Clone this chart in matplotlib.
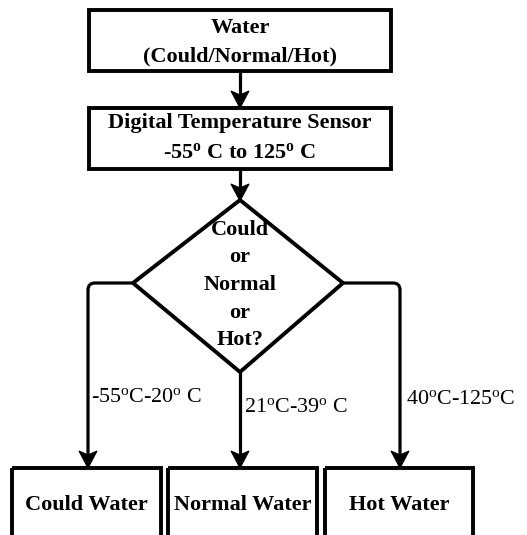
import matplotlib
matplotlib.use("Agg")
import matplotlib.pyplot as plt
from matplotlib.patches import Rectangle, Polygon, PathPatch
from matplotlib.path import Path

plt.rcParams['font.family'] = ['Liberation Serif', 'DejaVu Serif']
plt.rcParams['mathtext.fontset'] = 'custom'
plt.rcParams['mathtext.rm'] = 'Liberation Serif'
plt.rcParams['mathtext.bf'] = 'Liberation Serif:bold'
plt.rcParams['mathtext.it'] = 'Liberation Serif:italic'

# ---- content ----
top_box_lines = ["Water", "(Could/Normal/Hot)"]
sensor_box_lines = ["Digital Temperature Sensor", r"-55$^{\mathbf{o}}$ C to 125$^{\mathbf{o}}$ C"]
decision_lines = ["Could", "or", "Normal", "or", "Hot?"]
branch_labels = [r"-55$^{\mathrm{o}}$C-20$^{\mathrm{o}}$ C",
                 r"21$^{\mathrm{o}}$C-39$^{\mathrm{o}}$ C",
                 r"40$^{\mathrm{o}}$C-125$^{\mathrm{o}}$C"]
outcome_labels = ["Could Water", "Normal Water", "Hot Water"]

W, H = 527, 535
fig = plt.figure(figsize=(W / 100, H / 100), dpi=100)
ax = fig.add_axes([0, 0, 1, 1])
ax.set_xlim(0, W)
ax.set_ylim(H, 0)
ax.axis('off')

LW = 2.8
ALW = 2.3
FS = 16
FS_LAB = 15.8

HEAD_LEN = 17   # px
HEAD_HALF_W = 9
HEAD_NOTCH = 4  # px depth of the notch at the back of the head

def box(x0, y0, x1, y1):
    ax.add_patch(Rectangle((x0, y0), x1 - x0, y1 - y0, fill=False, lw=LW,
                           ec='black', joinstyle='miter'))

def head_at(x, y):
    # notched arrow head pointing down, tip at (x, y)
    ax.add_patch(Polygon([(x, y), (x - HEAD_HALF_W, y - HEAD_LEN), (x, y - HEAD_LEN + HEAD_NOTCH),
                          (x + HEAD_HALF_W, y - HEAD_LEN)], closed=True, fc='black', ec='black',
                         lw=0.8, joinstyle='miter', zorder=5))

def arrow(x, y0, y1):
    ax.plot([x, x], [y0, y1 - HEAD_LEN + HEAD_NOTCH], color='black', lw=ALW, solid_capstyle='butt')
    head_at(x, y1)

def bend_arrow(x_start, y, x_end, y_end, r=7):
    s = 1 if x_end > x_start else -1
    verts = [(x_start, y), (x_end - s * r, y), (x_end, y), (x_end, y + r),
             (x_end, y_end - HEAD_LEN + HEAD_NOTCH)]
    codes = [Path.MOVETO, Path.LINETO, Path.CURVE3, Path.CURVE3, Path.LINETO]
    ax.add_patch(PathPatch(Path(verts, codes), fill=False, lw=ALW, ec='black',
                           capstyle='butt', joinstyle='round'))
    head_at(x_end, y_end)

# top boxes
box(89, 10, 391, 71)
ax.text(240, 28, top_box_lines[0], ha='center', va='center', fontsize=FS, fontweight='bold')
ax.text(240, 56, top_box_lines[1], ha='center', va='center', fontsize=FS, fontweight='bold')
arrow(240, 71, 108)

box(89, 108, 391, 169)
ax.text(240, 123, sensor_box_lines[0], ha='center', va='center', fontsize=FS, fontweight='bold')
ax.text(240, 153, sensor_box_lines[1], ha='center', va='center', fontsize=FS, fontweight='bold')
arrow(240, 169, 201)

# decision diamond
cx, top, bot, left, right, mid = 240, 200, 372, 133, 343, 283
ax.add_patch(Polygon([(cx, top), (right, mid), (cx, bot), (left, mid)], closed=True,
                     fill=False, lw=LW, ec='black', joinstyle='miter'))
for i, t in enumerate(decision_lines):
    ax.text(cx, 230 + i * 27.5, t, ha='center', va='center', fontsize=FS, fontweight='bold')

# branches
yb = 468
bend_arrow(left, mid, 88, yb)
arrow(cx, bot, yb)
bend_arrow(right, mid, 400, yb)

ax.text(91, 397, branch_labels[0], ha='left', va='center', fontsize=FS_LAB)
ax.text(244, 407, branch_labels[1], ha='left', va='center', fontsize=FS_LAB)
ax.text(406, 400, branch_labels[2], ha='left', va='center', fontsize=FS_LAB)

# outcome boxes (cut off at bottom)
bx = [(12, 161), (168, 317), (325, 473)]
for (x0, x1), lab in zip(bx, outcome_labels):
    box(x0, yb, x1, H + 20)
    ax.text((x0 + x1) / 2, 505, lab, ha='center', va='center', fontsize=FS, fontweight='bold')

fig.savefig("out.png", dpi=100)
